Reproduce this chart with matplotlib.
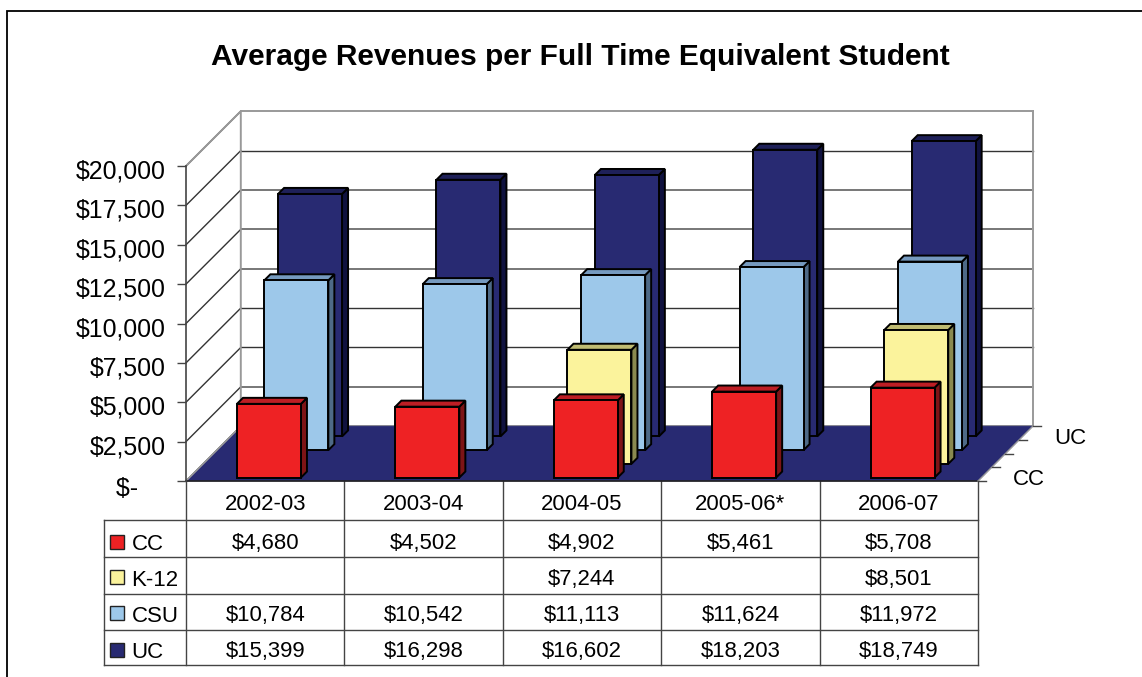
import matplotlib
matplotlib.use('Agg')
import matplotlib.pyplot as plt
from matplotlib.patches import Polygon, Rectangle
from matplotlib.transforms import ScaledTranslation

plt.rcParams['font.family'] = ['Liberation Sans', 'DejaVu Sans']

years = ['2002-03', '2003-04', '2004-05', '2005-06*', '2006-07']
series_names = ['CC', 'K-12', 'CSU', 'UC']
cc = [4680, 4502, 4902, 5461, 5708]
k12 = [None, None, 7244, None, 8501]
csu = [10784, 10542, 11113, 11624, 11972]
uc = [15399, 16298, 16602, 18203, 18749]
series_values = [cc, k12, csu, uc]
y_ticks = [0, 2500, 5000, 7500, 10000, 12500, 15000, 17500, 20000]

# front, side, top shade for each series
shades = {
    'CC': ('#EE2224', '#7D1416', '#BD1E24'),
    'K-12': ('#FBF39C', '#8A8A50', '#BFBB72'),
    'CSU': ('#9DC8EA', '#4E6A87', '#769ABF'),
    'UC': ('#282A72', '#10123F', '#1E2058'),
}
# back wall gridlines are not all the same weight in the source
grid_styles = [('#999999', 1.4), ('#777777', 1.4), ('#333333', 1.0), ('#333333', 1.0),
               ('#777777', 1.4), ('#777777', 1.4), ('#777777', 1.4), ('#333333', 1.0),
               ('#999999', 1.4)]

W, H = 1142, 677
fig = plt.figure(figsize=(W / 100, H / 100), dpi=100, facecolor='white')

# page axes in pixels: frame, title, data table
page = fig.add_axes([0, 0, 1, 1])
page.set_xlim(0, W)
page.set_ylim(H, 0)
page.axis('off')

# chart axes is the front plane of the 3d box
LEFT, RIGHT, BOTTOM, TOP = 186, 978, 481, 166
ax = fig.add_axes([LEFT / W, 1 - BOTTOM / H, (RIGHT - LEFT) / W, (BOTTOM - TOP) / H])
ax.set_xlim(0, 5)
ax.set_ylim(0, 20000)
ax.patch.set_visible(False)
for spine in ['top', 'right', 'bottom']:
    ax.spines[spine].set_visible(False)
ax.spines['left'].set_color('#444444')
ax.spines['left'].set_linewidth(1.2)

px_x = (RIGHT - LEFT) / 5
px_y = (BOTTOM - TOP) / 20000
SLOT = 13.7


def shift(d):
    return d * SLOT / px_x, d * SLOT / px_y


def poly(points, face, edge='black', lw=1.4, z=2):
    ax.add_patch(Polygon(points, closed=True, facecolor=face, edgecolor=edge,
                         linewidth=lw, joinstyle='miter', clip_on=False, zorder=z))


# walls and floor
bx, by = shift(4)
poly([(0, 0), (bx, by), (5 + bx, by), (5, 0)], '#282A72', edge='#282A72', lw=0.5, z=1)
for value, (color, width) in zip(y_ticks, grid_styles):
    ax.plot([0, bx], [value, value + by], color='#333333', lw=1.0, clip_on=False, zorder=0.5)
    ax.plot([bx, 5 + bx], [value + by, value + by], color=color, lw=width, clip_on=False, zorder=0.5)
ax.plot([0, bx, bx], [20000, 20000 + by, by], color='#999999', lw=1.4, clip_on=False, zorder=0.6)
ax.plot([5 + bx, 5 + bx], [20000 + by, by], color='#999999', lw=1.4, clip_on=False, zorder=0.6)
ax.plot([0, bx], [0, by], color='#999999', lw=1.2, clip_on=False, zorder=1.1)
ax.plot([bx, 5 + bx], [by, by], color='#999999', lw=1.4, clip_on=False, zorder=0.9)
ax.plot([0, 5], [0, 0], color='#222222', lw=1.2, clip_on=False, zorder=1.2)
ax.plot([5, 5 + bx], [0, by], color='#999999', lw=1.0, clip_on=False, zorder=1.2)

# bars, back row first
BAR_W = 0.404
for j in reversed(range(len(series_names))):
    front, side, top = shades[series_names[j]]
    for i, value in enumerate(series_values[j]):
        if value is None:
            continue
        x0 = i + 0.3
        dx0, dy0 = shift(j + 0.25)
        dx1, dy1 = shift(j + 0.69)
        xa, xb = x0 + dx0, x0 + BAR_W + dx0
        xc, xd = x0 + dx1, x0 + BAR_W + dx1
        poly([(xb, dy0), (xd, dy1), (xd, value + dy1), (xb, value + dy0)], side, z=3 + 4 - j)
        poly([(xa, value + dy0), (xb, value + dy0), (xd, value + dy1), (xc, value + dy1)], top, z=3 + 4 - j)
        poly([(xa, dy0), (xb, dy0), (xb, value + dy0), (xa, value + dy0)], front, z=3 + 4 - j)

# y axis
tick_labels = ['$-\u00a0\u00a0\u00a0\u00a0'] + [f'${v:,}' for v in y_ticks[1:]]
ax.set_xticks([])
ax.set_yticks(y_ticks)
ax.set_yticklabels(tick_labels, fontsize=17.9, color='black')
ax.tick_params(axis='y', length=6.5, width=1.0, color='#444444', pad=8)
labels = ax.get_yticklabels()
for k, label in enumerate(labels):
    drop = 5.5 if k == 0 else 3.0
    label.set_transform(label.get_transform() + ScaledTranslation(0, -drop / 100, fig.dpi_scale_trans))

# depth axis ticks and series names
for d in range(5):
    sx, sy = shift(d)
    ax.plot([5 + sx, 5 + sx + 8 / px_x], [sy, sy], color='#444444', lw=1.0, clip_on=False, zorder=1.3)
for d, name in [(0.5, 'CC'), (3.5, 'UC')]:
    sx, sy = shift(d)
    ax.text(5 + sx + 28 / px_x, sy - 5 / px_y, name, fontsize=16, ha='left', va='center')

# frame runs off the right and bottom of the picture, only top and left show
page.add_patch(Rectangle((7, 10.5), 1200, 700, facecolor='white', edgecolor='black', linewidth=1.3, zorder=0))
page.text(580.5, 57, 'Average Revenues per Full Time Equivalent Student',
          fontsize=21.55, fontweight='bold', ha='center', va='center', zorder=2)

# data table
col_x = [LEFT + k * px_x for k in range(6)]
row_y = [BOTTOM, 520, 557, 594, 630, 665]
line_kw = dict(color='#444444', lw=1.0, zorder=2)
for x in col_x:
    page.plot([x, x], [row_y[0], row_y[-1]], **line_kw)
for y in row_y[1:]:
    page.plot([104, RIGHT], [y, y], **line_kw)
page.plot([104, 104], [row_y[1], row_y[-1]], **line_kw)

for i, year in enumerate(years):
    page.text(LEFT + (i + 0.5) * px_x, 504, year, fontsize=15.9, ha='center', va='center', zorder=3)

text_y = [543, 578, 614, 651]
for j, name in enumerate(series_names):
    page.add_patch(Rectangle((110, text_y[j] - 8), 14, 14, facecolor=shades[name][0],
                             edgecolor='#222222', linewidth=1.0, zorder=3))
    page.text(131.5, text_y[j] + 2, name, fontsize=16, ha='left', va='center', zorder=3)
    for i, value in enumerate(series_values[j]):
        if value is not None:
            page.text(LEFT + (i + 0.5) * px_x, text_y[j] + 1, f'${value:,}', fontsize=15.9,
                      ha='center', va='center', zorder=3)

fig.savefig('out.png', dpi=100)
